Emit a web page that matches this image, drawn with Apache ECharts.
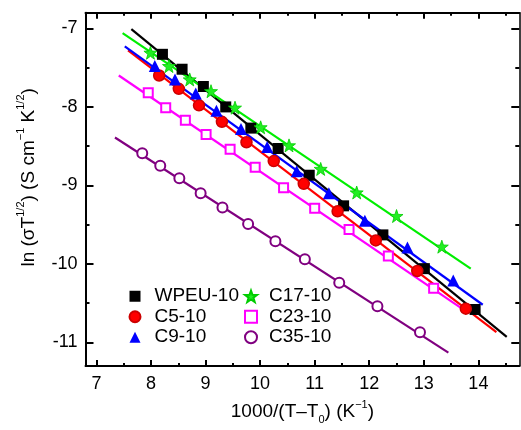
<!DOCTYPE html>
<html>
<head>
<meta charset="utf-8">
<script src="https://cdn.jsdelivr.net/npm/echarts@6/dist/echarts.min.js"></script>
<style>html,body{margin:0;padding:0;background:#fff}#c{width:521px;height:430px}</style>
</head>
<body>
<div id="c"></div>
<script>
// ---- data ----
const seriesNames = ['WPEU-10', 'C5-10', 'C9-10', 'C17-10', 'C23-10', 'C35-10'];

const wpeuX = [8.21, 8.57, 8.96, 9.37, 9.83, 10.33, 10.90, 11.53, 12.25, 13.01, 13.94];
const wpeuY = [-7.33, -7.52, -7.74, -8.00, -8.27, -8.53, -8.87, -9.26, -9.63, -10.06, -10.58];

const c5X = [8.15, 8.51, 8.88, 9.30, 9.75, 10.25, 10.80, 11.42, 12.12, 12.88, 13.77];
const c5Y = [-7.60, -7.77, -7.98, -8.19, -8.45, -8.69, -8.98, -9.33, -9.70, -10.09, -10.57];

const c9X = [8.07, 8.44, 8.82, 9.20, 9.65, 10.13, 10.67, 11.26, 11.92, 12.70, 13.54];
const c9Y = [-7.48, -7.65, -7.83, -8.05, -8.28, -8.51, -8.82, -9.10, -9.45, -9.79, -10.21];

const c17X = [7.99, 8.33, 8.71, 9.10, 9.54, 10.01, 10.53, 11.11, 11.77, 12.50, 13.33];
const c17Y = [-7.31, -7.48, -7.65, -7.80, -8.01, -8.26, -8.49, -8.79, -9.09, -9.39, -9.78];

const c23X = [7.95, 8.27, 8.63, 9.01, 9.45, 9.91, 10.43, 11.00, 11.63, 12.35, 13.18];
const c23Y = [-7.82, -8.01, -8.17, -8.35, -8.54, -8.77, -9.03, -9.29, -9.56, -9.90, -10.31];

const c35X = [7.84, 8.17, 8.52, 8.91, 9.31, 9.78, 10.28, 10.82, 11.45, 12.15, 12.93];
const c35Y = [-8.59, -8.75, -8.91, -9.10, -9.28, -9.49, -9.71, -9.94, -10.24, -10.54, -10.87];

// linear fit lines: [x start, x end], [y start, y end]
const fitX = [[7.64, 14.52], [7.58, 14.33], [7.52, 14.08], [7.48, 13.86], [7.41, 13.70], [7.34, 13.45]];
const fitY = [[-7.01, -10.93], [-7.28, -10.87], [-7.23, -10.52], [-7.06, -10.06], [-7.60, -10.57], [-8.39, -11.13]];

const xMajor = [7, 8, 9, 10, 11, 12, 13, 14];
const xMinor = [7.5, 8.5, 9.5, 10.5, 11.5, 12.5, 13.5, 14.5];
const yMajor = [-7, -8, -9, -10, -11];
const yMinor = [-7.5, -8.5, -9.5, -10.5];

// ---- chart ----
const FONT = 'Liberation Sans, Arial, Helvetica, sans-serif';
const X_MIN = 6.8, X_MAX = 14.75, Y_MIN = -11.3, Y_MAX = -6.8;
const colors = ['#000000', '#ff0000', '#0000ff', '#00ee00', '#ff00ff', '#800080'];
const STAR = 'path://M0,-10 L2.35,-3.24 L9.51,-3.09 L3.8,1.24 L5.88,8.09 L0,4 L-5.88,8.09 L-3.8,1.24 L-9.51,-3.09 L-2.35,-3.24 Z';

const xsAll = [wpeuX, c5X, c9X, c17X, c23X, c35X];
const ysAll = [wpeuY, c5Y, c9Y, c17Y, c23Y, c35Y];
const markers = [
  {symbol: 'rect', size: 11, itemStyle: {color: '#000000'}},
  {symbol: 'circle', size: 11, itemStyle: {color: '#ff0000', borderColor: '#cc0000', borderWidth: 1.5}},
  {symbol: 'triangle', size: 12, itemStyle: {color: '#0000ff'}},
  {symbol: STAR, size: 13, itemStyle: {color: '#22ee22', borderColor: '#00cc00', borderWidth: 0.8}},
  {symbol: 'rect', size: 9, itemStyle: {color: '#ffffff', borderColor: '#ff00ff', borderWidth: 2}},
  {symbol: 'circle', size: 10, itemStyle: {color: '#ffffff', borderColor: '#800080', borderWidth: 2}}
];

function zip(a, b) { return a.map((v, i) => [v, b[i]]); }

const series = [];
seriesNames.forEach((n, i) => {
  series.push({
    name: 'fit ' + n, type: 'line', xAxisIndex: 0, yAxisIndex: 0,
    data: zip(fitX[i], fitY[i]), showSymbol: false, symbol: 'none',
    lineStyle: {color: colors[i], width: 2.2}, z: 2, silent: true
  });
});
seriesNames.forEach((n, i) => {
  series.push({
    name: n, type: 'scatter', xAxisIndex: 0, yAxisIndex: 0,
    data: zip(xsAll[i], ysAll[i]),
    symbol: markers[i].symbol, symbolSize: markers[i].size,
    itemStyle: Object.assign({opacity: 1}, markers[i].itemStyle), z: 5
  });
});

const nameRich = {
  a: {fontSize: 19, fontFamily: FONT, color: '#000', lineHeight: 26, verticalAlign: 'middle'},
  sup: {fontSize: 11, fontFamily: FONT, color: '#000', verticalAlign: 'top', lineHeight: 14},
  sub: {fontSize: 11, fontFamily: FONT, color: '#000', verticalAlign: 'bottom', lineHeight: 14}
};

function xAx(pos, vals, len, lineShow, lineW, labels, extra) {
  return Object.assign({
    type: 'value', position: pos, min: X_MIN, max: X_MAX, gridIndex: 0,
    axisLine: {show: lineShow, onZero: false, lineStyle: {color: '#000', width: lineW}},
    axisTick: {show: true, inside: true, length: len, customValues: vals, lineStyle: {color: '#000', width: 2}},
    axisLabel: labels ? {show: true, customValues: vals, fontSize: 18, color: '#000', fontFamily: FONT, margin: 9} : {show: false},
    splitLine: {show: false}
  }, extra || {});
}
function yAx(pos, vals, len, lineShow, lineW, labels, extra) {
  return Object.assign({
    type: 'value', position: pos, min: Y_MIN, max: Y_MAX, gridIndex: 0,
    axisLine: {show: lineShow, onZero: false, lineStyle: {color: '#000', width: lineW}},
    axisTick: {show: true, inside: true, length: len, customValues: vals, lineStyle: {color: '#000', width: 2}},
    axisLabel: labels ? {show: true, customValues: vals, fontSize: 18, color: '#000', fontFamily: FONT, margin: 8} : {show: false},
    splitLine: {show: false}
  }, extra || {});
}

const legendText = {fontSize: 19, fontFamily: FONT, color: '#000', lineHeight: 20.5};

const option = {
  animation: false,
  backgroundColor: '#ffffff',
  grid: {left: 85.5, right: 1.7, top: 12.7, bottom: 63.3, containLabel: false},
  xAxis: [
    xAx('bottom', xMajor, 6, true, 2, true, {
      name: '{a|1000/(T–T}{sub|0}{a|) (K}{sup|−1}{a|)}',
      nameLocation: 'middle', nameGap: 33,
      nameTextStyle: {rich: nameRich}
    }),
    xAx('bottom', xMinor, 3, false, 2, false),
    xAx('top', xMajor, 6, true, 2, false),
    xAx('top', xMinor, 3, false, 2, false)
  ],
  yAxis: [
    yAx('left', yMajor, 8, true, 2, true, {
      name: '{a|ln (σT}{sup|1/2}{a|) (S cm}{sup|−1}{a| K}{sup|1/2}{a|)}',
      nameLocation: 'middle', nameGap: 44, nameRotate: 90,
      nameTextStyle: {rich: nameRich, padding: [0, 0, 0, 24]}
    }),
    yAx('left', yMinor, 4, false, 2, false),
    yAx('right', yMajor, 8, true, 1.5, false),
    yAx('right', yMinor, 4, false, 1.5, false)
  ],
  legend: [
    {
      data: seriesNames.slice(0, 3), orient: 'vertical', left: 128.5, top: 286,
      itemWidth: 11, itemHeight: 11, itemGap: 0, padding: 0,
      textStyle: Object.assign({padding: [0, 0, 0, 9]}, legendText),
      selectedMode: false
    },
    {
      data: seriesNames.slice(3, 6), orient: 'vertical', left: 244, top: 286,
      itemWidth: 12, itemHeight: 12, itemGap: 0, padding: 0,
      textStyle: Object.assign({padding: [0, 0, 0, 7]}, legendText),
      selectedMode: false
    }
  ],
  series: series
};

const chart = echarts.init(document.getElementById('c'), null, {renderer: 'canvas'});
chart.setOption(option);
</script>
</body>
</html>
